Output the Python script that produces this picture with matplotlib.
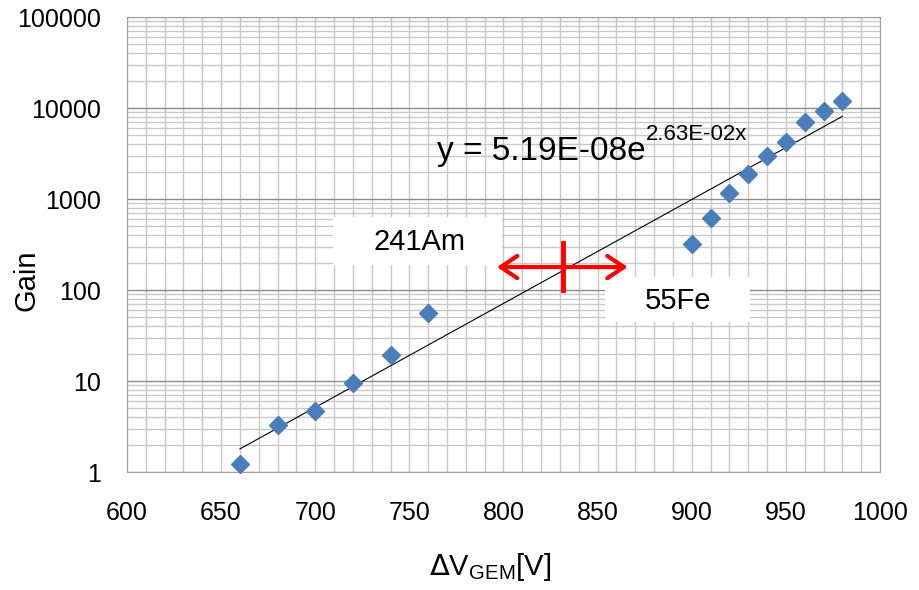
import numpy as np
import matplotlib.pyplot as plt
from matplotlib.patches import Rectangle
from matplotlib.ticker import LogLocator, FixedLocator, NullFormatter

plt.rcParams['font.family'] = ['Liberation Sans', 'DejaVu Sans']

# measured gain vs GEM voltage
voltage = [660, 680, 700, 720, 740, 760, 900, 910, 920, 930, 940, 950, 960, 970, 980]
gain = [1.22, 3.3, 4.7, 9.5, 19.3, 56, 320, 617, 1165, 1880, 2960, 4230, 7000, 9270, 11900]

# exponential fit y = a*exp(b*x)
fit_a = 5.19e-8
fit_b = 2.63e-2
fit_range = [660, 980]

# boundary marker between the two sources
cross_x = 831.6
cross_y = 179
arrow_span = [796.5, 866]
cross_ylim = [100, 328]

fig = plt.figure(figsize=(9.2, 5.9), dpi=100)
ax = fig.add_axes([0.138, 0.2, 0.8185, 0.771])

xs = np.linspace(fit_range[0], fit_range[1], 50)
ax.plot(xs, fit_a * np.exp(fit_b * xs), color='black', lw=0.8, zorder=3)
ax.plot(voltage, gain, 'D', color='#4a7ebb', ms=9, mec='#4a7ebb', zorder=4, clip_on=False)

ax.set_yscale('log')
ax.set_xlim(600, 1000)
ax.set_ylim(1, 100000)
ax.xaxis.set_major_locator(FixedLocator(np.arange(600, 1001, 50)))
ax.xaxis.set_minor_locator(FixedLocator(np.arange(600, 1001, 10)))
ax.yaxis.set_minor_locator(LogLocator(base=10, subs=np.arange(2, 10), numticks=20))
ax.yaxis.set_minor_formatter(NullFormatter())
ax.set_yticks([1, 10, 100, 1000, 10000, 100000])
ax.set_yticklabels(['1', '10', '100', '1000', '10000', '100000'])

ax.grid(which='minor', color='#c8c8c8', lw=1.0)
ax.grid(which='major', axis='x', color='#c8c8c8', lw=1.0)
ax.grid(which='major', axis='y', color='#8c8c8c', lw=1.0)
ax.set_axisbelow(True)
for s in ax.spines.values():
    s.set_color('#a0a0a0')
ax.tick_params(which='both', length=0, labelsize=18)
ax.tick_params(axis='y', pad=19)
ax.tick_params(axis='x', pad=21)

ax.set_ylabel('Gain', fontsize=21, va='center')
ax.yaxis.set_label_coords(-0.134, 0.422)
ax.set_xlabel(r'$\Delta$V$_{\mathregular{GEM}}$[V]', fontsize=21, va='center')
ax.xaxis.set_label_coords(0.482, -0.209)

# white label boxes
ax.add_patch(Rectangle((0.2736, 0.455), 0.2244, 0.1054, transform=ax.transAxes,
                       fc='white', ec='none', zorder=2))
ax.add_patch(Rectangle((0.6348, 0.3297), 0.1926, 0.0989, transform=ax.transAxes,
                       fc='white', ec='none', zorder=2))
ax.text(755.6, 337, '241Am', fontsize=21, ha='center', va='center', zorder=3)
ax.text(892.7, 76, '55Fe', fontsize=21, ha='center', va='center', zorder=3)

# fit equation with superscript exponent
eq = ax.text(0.4117, 0.6857, 'y = 5.19E-08e', transform=ax.transAxes,
             fontsize=24, ha='left', va='baseline', zorder=5)
fig.canvas.draw()
bb = eq.get_window_extent().transformed(ax.transAxes.inverted())
ax.text(bb.x1, 0.7297, '2.63E-02x', transform=ax.transAxes,
        fontsize=16, ha='left', va='baseline', zorder=5)

# red cross with double arrow
ax.annotate('', xy=(arrow_span[0], cross_y), xytext=(arrow_span[1], cross_y),
            arrowprops=dict(arrowstyle='<->,head_length=0.6,head_width=0.4', color='red',
                            lw=3, mutation_scale=20, shrinkA=0, shrinkB=0), zorder=6)
ax.plot([cross_x, cross_x], cross_ylim, color='red', lw=3.5, zorder=6)

fig.savefig('out.png', dpi=100)
